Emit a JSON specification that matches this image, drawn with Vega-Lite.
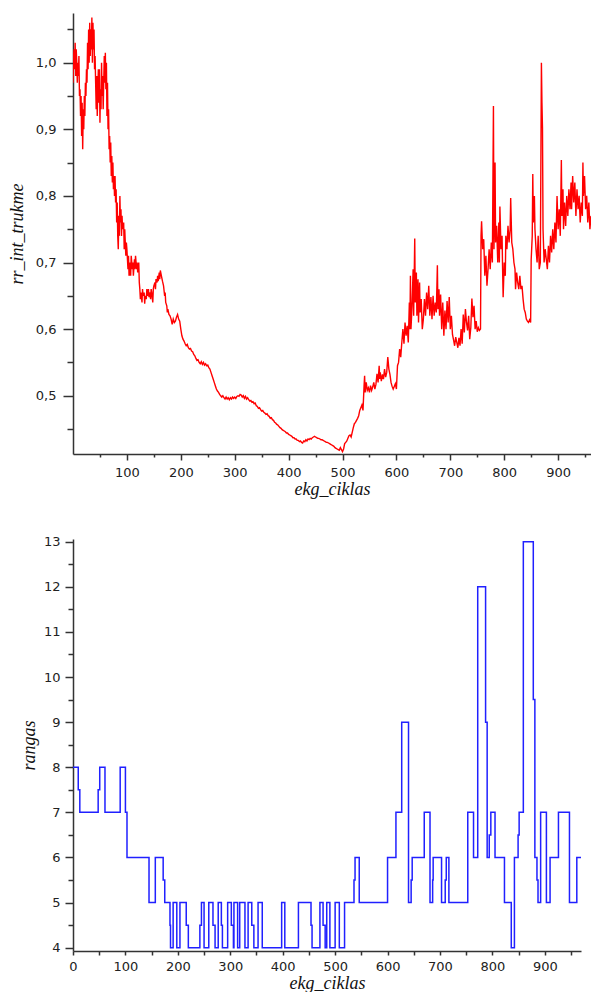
{
  "$schema": "https://vega.github.io/schema/vega-lite/v6.json",
  "background": "white",
  "padding": {"left": 8, "top": 13, "right": 0, "bottom": 0},
  "spacing": 37,
  "config": {
    "view": {"stroke": null},
    "axis": {
      "grid": false,
      "domainColor": "#333333",
      "domainWidth": 1.5,
      "tickColor": "#333333",
      "tickWidth": 1.5,
      "labelColor": "#222222",
      "labelFont": "DejaVu Sans",
      "labelFontSize": 13,
      "labelOverlap": false,
      "labelFlush": false,
      "titleFont": "Liberation Serif",
      "titleFontStyle": "italic",
      "titleFontWeight": "normal",
      "titleFontSize": 18,
      "titleColor": "#111111"
    }
  },
  "datasets": {
    "rr": [
      {"c":0,"v":0.97},{"c":1,"v":1.01},{"c":2,"v":1.02},{"c":3,"v":0.99},{"c":4,"v":1.03},{"c":5,"v":0.98},{"c":6,"v":1.02},{"c":7,"v":1.0},{"c":8,"v":0.97},{"c":9,"v":1.0},
      {"c":10,"v":0.98},{"c":11,"v":1.01},{"c":12,"v":0.95},{"c":13,"v":0.96},{"c":14,"v":0.92},{"c":15,"v":0.95},{"c":16,"v":0.89},{"c":17,"v":0.94},{"c":18,"v":0.87},{"c":19,"v":0.93},
      {"c":20,"v":0.9},{"c":21,"v":0.95},{"c":22,"v":0.92},{"c":23,"v":0.97},{"c":24,"v":0.95},{"c":25,"v":0.99},{"c":26,"v":0.97},{"c":27,"v":1.03},{"c":28,"v":0.99},{"c":29,"v":1.05},
      {"c":30,"v":1.0},{"c":31,"v":1.06},{"c":32,"v":1.01},{"c":33,"v":1.05},{"c":34,"v":1.02},{"c":35,"v":1.068},{"c":36,"v":1.0},{"c":37,"v":1.06},{"c":38,"v":1.02},{"c":39,"v":1.05},
      {"c":40,"v":0.99},{"c":41,"v":1.01},{"c":42,"v":0.97},{"c":43,"v":0.93},{"c":44,"v":0.98},{"c":45,"v":0.92},{"c":46,"v":0.96},{"c":47,"v":0.99},{"c":48,"v":0.94},{"c":49,"v":0.99},
      {"c":50,"v":0.91},{"c":51,"v":0.96},{"c":52,"v":0.93},{"c":53,"v":1.0},{"c":54,"v":0.95},{"c":55,"v":0.98},{"c":56,"v":0.93},{"c":57,"v":0.97},{"c":58,"v":1.01},{"c":59,"v":0.97},
      {"c":60,"v":1.015},{"c":61,"v":0.96},{"c":62,"v":1.0},{"c":63,"v":0.92},{"c":64,"v":0.97},{"c":65,"v":0.9},{"c":66,"v":0.93},{"c":67,"v":0.87},{"c":68,"v":0.89},{"c":69,"v":0.85},
      {"c":70,"v":0.88},{"c":71,"v":0.83},{"c":72,"v":0.86},{"c":73,"v":0.82},{"c":74,"v":0.85},{"c":75,"v":0.81},{"c":76,"v":0.83},{"c":77,"v":0.8},{"c":78,"v":0.83},{"c":79,"v":0.79},
      {"c":80,"v":0.81},{"c":81,"v":0.76},{"c":82,"v":0.79},{"c":83,"v":0.74},{"c":84,"v":0.72},{"c":85,"v":0.77},{"c":86,"v":0.74},{"c":87,"v":0.8},{"c":88,"v":0.76},{"c":89,"v":0.78},
      {"c":90,"v":0.74},{"c":91,"v":0.77},{"c":92,"v":0.75},{"c":94,"v":0.76},{"c":95,"v":0.72},{"c":96,"v":0.75},{"c":98,"v":0.71},{"c":99,"v":0.73},{"c":100,"v":0.72},{"c":102,"v":0.69},
      {"c":103,"v":0.71},{"c":104,"v":0.68},{"c":106,"v":0.7},{"c":107,"v":0.68},{"c":108,"v":0.71},{"c":110,"v":0.69},{"c":111,"v":0.7},{"c":112,"v":0.68},{"c":114,"v":0.705},{"c":115,"v":0.69},
      {"c":116,"v":0.71},{"c":118,"v":0.69},{"c":119,"v":0.7},{"c":120,"v":0.685},{"c":122,"v":0.7},{"c":123,"v":0.67},{"c":124,"v":0.66},{"c":125,"v":0.645},{"c":126,"v":0.655},{"c":128,"v":0.64},
      {"c":129,"v":0.66},{"c":130,"v":0.65},{"c":132,"v":0.655},{"c":133,"v":0.638},{"c":134,"v":0.65},{"c":136,"v":0.645},{"c":137,"v":0.66},{"c":138,"v":0.65},{"c":140,"v":0.66},{"c":141,"v":0.648},
      {"c":142,"v":0.655},{"c":144,"v":0.645},{"c":145,"v":0.66},{"c":146,"v":0.655},{"c":148,"v":0.64},{"c":149,"v":0.66},{"c":150,"v":0.665},{"c":152,"v":0.67},{"c":153,"v":0.66},{"c":154,"v":0.675},
      {"c":156,"v":0.67},{"c":157,"v":0.68},{"c":158,"v":0.672},{"c":160,"v":0.685},{"c":161,"v":0.675},{"c":162,"v":0.688},{"c":164,"v":0.68},{"c":166,"v":0.672},{"c":168,"v":0.665},{"c":170,"v":0.65},
      {"c":171,"v":0.655},{"c":172,"v":0.64},{"c":174,"v":0.635},{"c":175,"v":0.625},{"c":176,"v":0.63},{"c":178,"v":0.622},{"c":180,"v":0.62},{"c":182,"v":0.615},{"c":184,"v":0.607},{"c":186,"v":0.615},
      {"c":188,"v":0.61},{"c":190,"v":0.612},{"c":192,"v":0.618},{"c":194,"v":0.622},{"c":196,"v":0.615},{"c":198,"v":0.612},{"c":200,"v":0.6},{"c":202,"v":0.59},{"c":204,"v":0.585},{"c":206,"v":0.582},
      {"c":208,"v":0.578},{"c":210,"v":0.575},{"c":212,"v":0.577},{"c":214,"v":0.572},{"c":216,"v":0.57},{"c":218,"v":0.571},{"c":220,"v":0.567},{"c":222,"v":0.566},{"c":224,"v":0.562},{"c":226,"v":0.56},
      {"c":228,"v":0.556},{"c":230,"v":0.553},{"c":232,"v":0.554},{"c":234,"v":0.55},{"c":236,"v":0.548},{"c":238,"v":0.551},{"c":240,"v":0.547},{"c":242,"v":0.55},{"c":244,"v":0.546},{"c":246,"v":0.548},
      {"c":248,"v":0.545},{"c":250,"v":0.546},{"c":252,"v":0.542},{"c":254,"v":0.54},{"c":256,"v":0.535},{"c":258,"v":0.53},{"c":260,"v":0.525},{"c":262,"v":0.52},{"c":264,"v":0.515},{"c":266,"v":0.51},
      {"c":268,"v":0.507},{"c":270,"v":0.505},{"c":272,"v":0.502},{"c":274,"v":0.5},{"c":276,"v":0.498},{"c":278,"v":0.5},{"c":280,"v":0.497},{"c":282,"v":0.495},{"c":284,"v":0.498},{"c":286,"v":0.495},
      {"c":288,"v":0.497},{"c":290,"v":0.494},{"c":292,"v":0.497},{"c":294,"v":0.495},{"c":296,"v":0.498},{"c":298,"v":0.496},{"c":300,"v":0.498},{"c":302,"v":0.496},{"c":304,"v":0.499},{"c":306,"v":0.5},
      {"c":308,"v":0.499},{"c":310,"v":0.502},{"c":312,"v":0.501},{"c":314,"v":0.498},{"c":316,"v":0.5},{"c":318,"v":0.496},{"c":320,"v":0.499},{"c":322,"v":0.495},{"c":324,"v":0.497},{"c":326,"v":0.494},
      {"c":328,"v":0.492},{"c":330,"v":0.493},{"c":332,"v":0.49},{"c":334,"v":0.491},{"c":336,"v":0.488},{"c":338,"v":0.489},{"c":340,"v":0.485},{"c":342,"v":0.484},{"c":344,"v":0.481},{"c":346,"v":0.482},
      {"c":348,"v":0.479},{"c":350,"v":0.477},{"c":352,"v":0.478},{"c":354,"v":0.475},{"c":356,"v":0.474},{"c":358,"v":0.472},{"c":360,"v":0.473},{"c":362,"v":0.47},{"c":364,"v":0.469},{"c":366,"v":0.466},
      {"c":368,"v":0.467},{"c":370,"v":0.464},{"c":372,"v":0.463},{"c":374,"v":0.46},{"c":376,"v":0.459},{"c":378,"v":0.457},{"c":380,"v":0.456},{"c":382,"v":0.454},{"c":384,"v":0.452},{"c":386,"v":0.451},
      {"c":388,"v":0.449},{"c":390,"v":0.448},{"c":392,"v":0.447},{"c":394,"v":0.446},{"c":396,"v":0.444},{"c":398,"v":0.444},{"c":400,"v":0.442},{"c":402,"v":0.441},{"c":404,"v":0.44},{"c":406,"v":0.439},
      {"c":408,"v":0.437},{"c":410,"v":0.437},{"c":412,"v":0.435},{"c":414,"v":0.435},{"c":416,"v":0.433},{"c":418,"v":0.433},{"c":420,"v":0.431},{"c":422,"v":0.432},{"c":424,"v":0.43},{"c":426,"v":0.429},
      {"c":428,"v":0.432},{"c":430,"v":0.431},{"c":432,"v":0.434},{"c":434,"v":0.432},{"c":436,"v":0.435},{"c":438,"v":0.434},{"c":440,"v":0.436},{"c":442,"v":0.435},{"c":444,"v":0.437},{"c":446,"v":0.438},
      {"c":448,"v":0.439},{"c":450,"v":0.438},{"c":452,"v":0.437},{"c":454,"v":0.436},{"c":456,"v":0.436},{"c":458,"v":0.435},{"c":460,"v":0.434},{"c":462,"v":0.434},{"c":464,"v":0.433},{"c":466,"v":0.432},
      {"c":468,"v":0.431},{"c":470,"v":0.43},{"c":472,"v":0.43},{"c":474,"v":0.429},{"c":476,"v":0.428},{"c":478,"v":0.427},{"c":480,"v":0.426},{"c":482,"v":0.425},{"c":484,"v":0.424},{"c":486,"v":0.422},
      {"c":488,"v":0.421},{"c":490,"v":0.42},{"c":492,"v":0.419},{"c":494,"v":0.418},{"c":496,"v":0.422},{"c":498,"v":0.419},{"c":500,"v":0.416},{"c":502,"v":0.42},{"c":504,"v":0.428},{"c":506,"v":0.43},
      {"c":508,"v":0.432},{"c":510,"v":0.436},{"c":512,"v":0.44},{"c":514,"v":0.441},{"c":516,"v":0.438},{"c":518,"v":0.445},{"c":520,"v":0.452},{"c":522,"v":0.458},{"c":524,"v":0.46},{"c":526,"v":0.463},
      {"c":528,"v":0.466},{"c":530,"v":0.47},{"c":532,"v":0.478},{"c":534,"v":0.482},{"c":536,"v":0.486},{"c":538,"v":0.478},{"c":540,"v":0.515},{"c":541,"v":0.53},{"c":542,"v":0.505},{"c":544,"v":0.52},
      {"c":546,"v":0.508},{"c":548,"v":0.512},{"c":550,"v":0.505},{"c":552,"v":0.515},{"c":554,"v":0.508},{"c":556,"v":0.513},{"c":558,"v":0.52},{"c":560,"v":0.51},{"c":562,"v":0.517},{"c":564,"v":0.533},
      {"c":566,"v":0.52},{"c":568,"v":0.545},{"c":569,"v":0.525},{"c":570,"v":0.535},{"c":572,"v":0.522},{"c":574,"v":0.532},{"c":576,"v":0.525},{"c":578,"v":0.54},{"c":580,"v":0.528},{"c":582,"v":0.535},
      {"c":584,"v":0.558},{"c":586,"v":0.54},{"c":588,"v":0.532},{"c":590,"v":0.52},{"c":592,"v":0.514},{"c":594,"v":0.51},{"c":596,"v":0.514},{"c":598,"v":0.518},{"c":600,"v":0.51},{"c":602,"v":0.545},
      {"c":604,"v":0.55},{"c":606,"v":0.57},{"c":608,"v":0.558},{"c":610,"v":0.58},{"c":612,"v":0.6},{"c":614,"v":0.578},{"c":616,"v":0.61},{"c":618,"v":0.59},{"c":620,"v":0.605},{"c":622,"v":0.58},
      {"c":624,"v":0.64},{"c":625,"v":0.6},{"c":626,"v":0.68},{"c":627,"v":0.6},{"c":629,"v":0.635},{"c":631,"v":0.69},{"c":632,"v":0.62},{"c":634,"v":0.736},{"c":635,"v":0.64},{"c":637,"v":0.685},
      {"c":638,"v":0.62},{"c":640,"v":0.675},{"c":641,"v":0.61},{"c":643,"v":0.67},{"c":644,"v":0.625},{"c":646,"v":0.645},{"c":648,"v":0.6},{"c":650,"v":0.615},{"c":652,"v":0.645},{"c":654,"v":0.62},
      {"c":656,"v":0.655},{"c":658,"v":0.63},{"c":660,"v":0.665},{"c":662,"v":0.62},{"c":664,"v":0.648},{"c":666,"v":0.615},{"c":668,"v":0.65},{"c":670,"v":0.62},{"c":672,"v":0.64},{"c":674,"v":0.625},
      {"c":676,"v":0.696},{"c":677,"v":0.63},{"c":679,"v":0.66},{"c":680,"v":0.62},{"c":682,"v":0.652},{"c":684,"v":0.6},{"c":686,"v":0.64},{"c":688,"v":0.59},{"c":690,"v":0.628},{"c":692,"v":0.6},
      {"c":694,"v":0.642},{"c":696,"v":0.61},{"c":698,"v":0.648},{"c":700,"v":0.6},{"c":702,"v":0.62},{"c":704,"v":0.592},{"c":706,"v":0.584},{"c":708,"v":0.575},{"c":710,"v":0.588},{"c":712,"v":0.58},
      {"c":714,"v":0.572},{"c":716,"v":0.587},{"c":718,"v":0.575},{"c":720,"v":0.6},{"c":722,"v":0.578},{"c":724,"v":0.622},{"c":726,"v":0.595},{"c":728,"v":0.63},{"c":730,"v":0.61},{"c":732,"v":0.598},
      {"c":734,"v":0.62},{"c":736,"v":0.585},{"c":738,"v":0.602},{"c":740,"v":0.646},{"c":742,"v":0.618},{"c":744,"v":0.635},{"c":746,"v":0.6},{"c":748,"v":0.612},{"c":750,"v":0.596},{"c":752,"v":0.602},
      {"c":754,"v":0.598},{"c":756,"v":0.6},{"c":757,"v":0.74},{"c":758,"v":0.762},{"c":760,"v":0.72},{"c":762,"v":0.735},{"c":764,"v":0.68},{"c":766,"v":0.71},{"c":768,"v":0.665},{"c":770,"v":0.69},
      {"c":772,"v":0.72},{"c":774,"v":0.69},{"c":776,"v":0.73},{"c":778,"v":0.7},{"c":780,"v":0.935},{"c":781,"v":0.72},{"c":783,"v":0.85},{"c":784,"v":0.73},{"c":786,"v":0.755},{"c":788,"v":0.7},
      {"c":790,"v":0.76},{"c":791,"v":0.7},{"c":792,"v":0.784},{"c":794,"v":0.72},{"c":796,"v":0.74},{"c":797,"v":0.69},{"c":798,"v":0.648},{"c":800,"v":0.7},{"c":802,"v":0.68},{"c":803,"v":0.74},
      {"c":805,"v":0.72},{"c":807,"v":0.755},{"c":809,"v":0.73},{"c":811,"v":0.75},{"c":812,"v":0.797},{"c":814,"v":0.73},{"c":816,"v":0.72},{"c":818,"v":0.7},{"c":820,"v":0.69},{"c":821,"v":0.66},
      {"c":823,"v":0.685},{"c":825,"v":0.67},{"c":827,"v":0.66},{"c":829,"v":0.68},{"c":831,"v":0.66},{"c":833,"v":0.665},{"c":835,"v":0.645},{"c":837,"v":0.63},{"c":839,"v":0.625},{"c":841,"v":0.615},
      {"c":843,"v":0.612},{"c":845,"v":0.61},{"c":847,"v":0.614},{"c":849,"v":0.61},{"c":850,"v":0.704},{"c":852,"v":0.74},{"c":853,"v":0.833},{"c":854,"v":0.76},{"c":856,"v":0.8},{"c":857,"v":0.75},
      {"c":859,"v":0.72},{"c":861,"v":0.7},{"c":863,"v":0.74},{"c":865,"v":0.69},{"c":867,"v":0.7},{"c":869,"v":1.0},{"c":870,"v":0.94},{"c":871,"v":0.902},{"c":872,"v":0.75},{"c":874,"v":0.7},
      {"c":876,"v":0.72},{"c":878,"v":0.705},{"c":880,"v":0.69},{"c":882,"v":0.725},{"c":884,"v":0.7},{"c":886,"v":0.74},{"c":888,"v":0.715},{"c":890,"v":0.75},{"c":892,"v":0.72},{"c":894,"v":0.76},
      {"c":896,"v":0.73},{"c":898,"v":0.8},{"c":900,"v":0.75},{"c":902,"v":0.78},{"c":904,"v":0.74},{"c":906,"v":0.854},{"c":907,"v":0.77},{"c":909,"v":0.81},{"c":910,"v":0.75},{"c":912,"v":0.79},
      {"c":914,"v":0.755},{"c":916,"v":0.8},{"c":918,"v":0.77},{"c":920,"v":0.81},{"c":922,"v":0.78},{"c":924,"v":0.82},{"c":925,"v":0.78},{"c":927,"v":0.83},{"c":929,"v":0.79},{"c":931,"v":0.82},
      {"c":933,"v":0.77},{"c":935,"v":0.81},{"c":937,"v":0.78},{"c":939,"v":0.8},{"c":941,"v":0.76},{"c":943,"v":0.79},{"c":945,"v":0.77},{"c":946,"v":0.85},{"c":947,"v":0.8},{"c":949,"v":0.83},
      {"c":951,"v":0.78},{"c":953,"v":0.8},{"c":955,"v":0.76},{"c":957,"v":0.79},{"c":959,"v":0.75},{"c":961,"v":0.77}
    ],
    "rangas": [
      {"c":0,"v":8},{"c":10,"v":7.5},{"c":13,"v":7},{"c":48,"v":7.5},{"c":51,"v":8},{"c":61,"v":7},{"c":90,"v":8},{"c":100,"v":7},{"c":103,"v":6},{"c":145,"v":5},
      {"c":157,"v":6},{"c":172,"v":5.5},{"c":175,"v":5},{"c":185,"v":4.5},{"c":186,"v":4},{"c":191,"v":5},{"c":198,"v":4},{"c":204,"v":5},{"c":216,"v":4.5},{"c":220,"v":4},
      {"c":242,"v":4.5},{"c":245,"v":5},{"c":250,"v":4},{"c":259,"v":5},{"c":267,"v":4.5},{"c":271,"v":4},{"c":277,"v":5},{"c":283,"v":4.5},{"c":285,"v":4},{"c":295,"v":5},
      {"c":302,"v":4.5},{"c":306,"v":4},{"c":307,"v":5},{"c":314,"v":4},{"c":318,"v":5},{"c":328,"v":4},{"c":334,"v":5},{"c":341,"v":4.5},{"c":345,"v":4},{"c":353,"v":5},
      {"c":361,"v":4},{"c":398,"v":5},{"c":404,"v":4},{"c":430,"v":5},{"c":454,"v":4.5},{"c":456,"v":4},{"c":471,"v":5},{"c":477,"v":4.5},{"c":481,"v":4},{"c":484,"v":5},
      {"c":490,"v":4},{"c":500,"v":5},{"c":508,"v":4},{"c":518,"v":5},{"c":536,"v":5.5},{"c":538,"v":6},{"c":546,"v":5},{"c":600,"v":6},{"c":616,"v":7},{"c":627,"v":9},
      {"c":640,"v":5},{"c":645,"v":5.5},{"c":647,"v":6},{"c":670,"v":7},{"c":681,"v":5},{"c":686,"v":5.5},{"c":687,"v":6},{"c":703,"v":5},{"c":710,"v":5.5},{"c":712,"v":6},
      {"c":717,"v":5},{"c":753,"v":7},{"c":764,"v":6},{"c":772,"v":12},{"c":787,"v":9},{"c":790,"v":6},{"c":794,"v":6.5},{"c":797,"v":7},{"c":805,"v":6},{"c":823,"v":5},
      {"c":836,"v":4},{"c":842,"v":6},{"c":849,"v":6.5},{"c":851,"v":7},{"c":859,"v":13},{"c":878,"v":9.5},{"c":881,"v":6},{"c":885,"v":5.5},{"c":887,"v":5},{"c":892,"v":7},
      {"c":903,"v":5},{"c":910,"v":6},{"c":926,"v":7},{"c":947,"v":5},{"c":961,"v":6},{"c":969,"v":6}
    ]
  },
  "vconcat": [
    {
      "width": 518,
      "height": 441,
      "data": {"name": "rr"},
      "mark": {"type": "line", "color": "#ff0000", "strokeWidth": 1.4, "clip": true},
      "encoding": {
        "x": {
          "field": "c",
          "type": "quantitative",
          "scale": {"domain": [0, 961], "nice": false, "zero": false},
          "axis": {
            "title": "ekg_ciklas",
            "values": [50, 100, 150, 200, 250, 300, 350, 400, 450, 500, 550, 600, 650, 700, 750, 800, 850, 900, 950],
            "labelExpr": "datum.value % 100 == 0 ? datum.label : ''",
            "tickSize": {"condition": {"test": "datum.value % 100 != 0", "value": 3}, "value": 6},
            "labelPadding": 6,
            "titlePadding": 1
          }
        },
        "y": {
          "field": "v",
          "type": "quantitative",
          "scale": {"domain": [0.4125, 1.0746], "nice": false, "zero": false},
          "axis": {
            "title": "rr_int_trukme",
            "values": [0.45, 0.5, 0.55, 0.6, 0.65, 0.7, 0.75, 0.8, 0.85, 0.9, 0.95, 1.0, 1.05],
            "labelExpr": "abs(datum.value * 10 - round(datum.value * 10)) < 0.001 ? replace(format(datum.value, '.1f'), '.', ',') : ''",
            "tickSize": {"condition": {"test": "abs(datum.value * 10 - round(datum.value * 10)) > 0.001", "value": 6}, "value": 10},
            "labelPadding": 7,
            "titlePadding": 9
          }
        }
      }
    },
    {
      "width": 508,
      "height": 412,
      "data": {"name": "rangas"},
      "mark": {"type": "line", "color": "#2020ff", "strokeWidth": 1.5, "interpolate": "step-after", "clip": true},
      "encoding": {
        "x": {
          "field": "c",
          "type": "quantitative",
          "scale": {"domain": [0, 969], "nice": false, "zero": false},
          "axis": {
            "title": "ekg_ciklas",
            "values": [0, 50, 100, 150, 200, 250, 300, 350, 400, 450, 500, 550, 600, 650, 700, 750, 800, 850, 900, 950],
            "labelExpr": "datum.value % 100 == 0 ? format(datum.value, 'd') : ''",
            "tickSize": 4,
            "labelPadding": 5,
            "titlePadding": 1
          }
        },
        "y": {
          "field": "v",
          "type": "quantitative",
          "scale": {"domain": [3.927, 13.06], "nice": false, "zero": false},
          "axis": {
            "title": "rangas",
            "values": [4, 4.5, 5, 5.5, 6, 6.5, 7, 7.5, 8, 8.5, 9, 9.5, 10, 10.5, 11, 11.5, 12, 12.5, 13],
            "labelExpr": "datum.value % 1 == 0 ? format(datum.value, 'd') : ''",
            "tickSize": {"condition": {"test": "datum.value % 1 != 0", "value": 5}, "value": 8},
            "labelPadding": 5,
            "titlePadding": 5
          }
        }
      }
    }
  ]
}
